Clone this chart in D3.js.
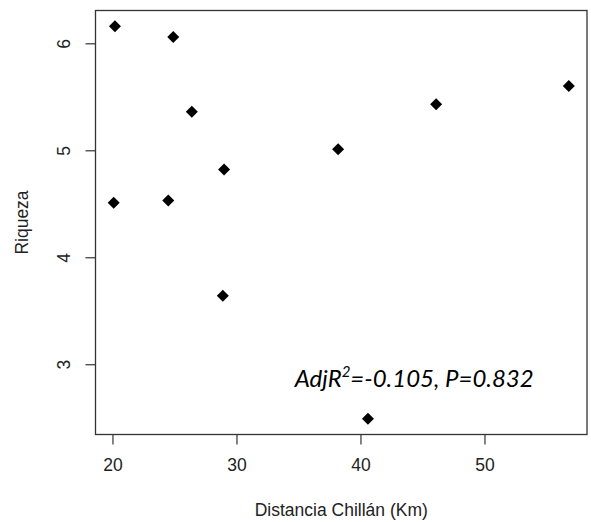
<!DOCTYPE html>
<html>
<head>
<meta charset="utf-8">
<script src="https://cdn.jsdelivr.net/npm/d3@7"></script>
<style>
  body { margin: 0; background: #fff; }
  svg { display: block; font-family: "Liberation Sans", Arial, sans-serif; }
</style>
</head>
<body>
<div id="chart"></div>
<script>
// distance to Chillán (km) and richness
var distancia = [20.2, 24.9, 26.4, 29.0, 20.1, 24.5, 28.9, 38.2, 46.1, 56.8, 40.6];
var riqueza   = [6.16, 6.06, 5.36, 4.82, 4.51, 4.53, 3.64, 5.01, 5.43, 5.60, 2.49];
var xTicks = [20, 30, 40, 50];
var yTicks = [3, 4, 5, 6];
var xLabel = "Distancia Chillán (Km)";
var yLabel = "Riqueza";
var statText = {pre: "AdjR", sup: "2", post: "=-0.105, P=0.832", x: 34.7, y: 2.79};

var width = 591, height = 522,
    marginTop = 10.5, marginRight = 4, marginBottom = 87.5, marginLeft = 95.5;

// R style: pad the data range by 4% on each side
function rDomain(arr){
  var ext = d3.extent(arr), pad = (ext[1] - ext[0]) * 0.04;
  return [ext[0] - pad, ext[1] + pad];
}

var x = d3.scaleLinear().domain(rDomain(distancia)).range([marginLeft, width - marginRight]);
var y = d3.scaleLinear().domain(rDomain(riqueza)).range([height - marginBottom, marginTop]);

var svg = d3.select("#chart").append("svg")
    .attr("width", width)
    .attr("height", height);

// x axis
var xAxis = svg.append("g")
    .attr("transform", "translate(0," + (height - marginBottom) + ")")
    .call(d3.axisBottom(x).tickValues(xTicks).tickFormat(d3.format("d"))
      .tickSize(10).tickPadding(14).tickSizeOuter(0));
xAxis.select(".domain").remove();
xAxis.selectAll(".tick line").attr("stroke", "#333").attr("stroke-width", 1.2);
xAxis.selectAll(".tick text").attr("fill", "#222").style("font-size", "17.5px");

// y axis, labels turned like R's las=0
var yAxis = svg.append("g")
    .attr("transform", "translate(" + marginLeft + ",0)")
    .call(d3.axisLeft(y).tickValues(yTicks).tickFormat(d3.format("d"))
      .tickSize(10).tickSizeOuter(0));
yAxis.select(".domain").remove();
yAxis.selectAll(".tick line").attr("stroke", "#333").attr("stroke-width", 1.2);
yAxis.selectAll(".tick text")
    .attr("fill", "#222")
    .style("font-size", "17.5px")
    .attr("x", null).attr("dy", null)
    .attr("text-anchor", "middle")
    .attr("transform", "translate(-26,0) rotate(-90)");

// plot box
svg.append("rect")
    .attr("x", marginLeft)
    .attr("y", marginTop)
    .attr("width", width - marginLeft - marginRight)
    .attr("height", height - marginTop - marginBottom)
    .attr("fill", "none")
    .attr("stroke", "#333")
    .attr("stroke-width", 1.3);

// axis titles
svg.append("text")
    .attr("x", (marginLeft + width - marginRight) / 2)
    .attr("y", 516)
    .attr("text-anchor", "middle")
    .attr("fill", "#222")
    .style("font-size", "17.5px")
    .text(xLabel);

svg.append("text")
    .attr("transform", "translate(28," + ((marginTop + height - marginBottom) / 2) + ") rotate(-90)")
    .attr("text-anchor", "middle")
    .attr("fill", "#222")
    .style("font-size", "17.5px")
    .text(yLabel);

// points, pch 18 style diamonds
var diamond = d3.symbol().type(d3.symbolSquare).size(72);
svg.append("g").selectAll("path")
    .data(distancia)
    .enter().append("path")
    .attr("d", diamond)
    .attr("transform", function(d, i){ return "translate(" + x(d) + "," + y(riqueza[i]) + ") rotate(45)"; })
    .attr("fill", "#000");

// regression stats
var st = svg.append("text")
    .attr("x", x(statText.x))
    .attr("y", y(statText.y))
    .attr("fill", "#000")
    .style("font-family", "Lato, 'Open Sans', sans-serif")
    .style("font-style", "italic")
    .style("font-size", "24px");
st.append("tspan").text(statText.pre);
st.append("tspan").attr("dy", -10).style("font-size", "15px").text(statText.sup);
st.append("tspan").attr("dy", 10).text(statText.post);
</script>
</body>
</html>
